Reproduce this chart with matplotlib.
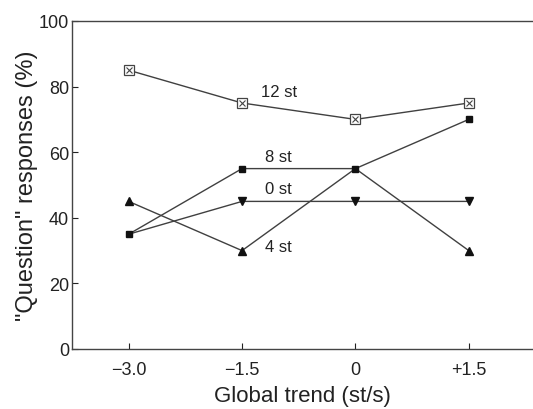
import matplotlib
matplotlib.use("Agg")
import matplotlib.pyplot as plt

plt.rcParams['font.family'] = ['Liberation Sans', 'DejaVu Sans']

# Global F0 trend conditions (st/s)
trend = [-3.0, -1.5, 0.0, 1.5]
trend_labels = ['\u22123.0', '\u22121.5', '0', '+1.5']

# Percentage of "question" responses per final-rise size
resp_12st = [85, 75, 70, 75]
resp_8st = [35, 55, 55, 70]
resp_0st = [35, 45, 45, 45]
resp_4st = [45, 30, 55, 30]

yticks = [0, 20, 40, 60, 80, 100]

fig = plt.figure(figsize=(5.33, 4.10), dpi=100)
ax = fig.add_axes([72 / 533, 1 - 350 / 410, 461 / 533, 328 / 410])

lc = '#404040'
lw = 1.0
ax.plot(trend, resp_4st, color=lc, lw=lw, marker='^', ms=5.5, mfc='#111111',
        mec='#111111', markevery=[0, 1, 3], zorder=3)
ax.plot(trend, resp_0st, color=lc, lw=lw, marker='v', ms=5.5, mfc='#111111',
        mec='#111111', markevery=[1, 2, 3], zorder=3)
ax.plot(trend, resp_8st, color=lc, lw=lw, marker='s', ms=4.5, mfc='#111111',
        mec='#111111', zorder=4)
ax.plot(trend, resp_12st, color=lc, lw=lw, marker='s', ms=7, mfc='white',
        mec='#444444', mew=0.9, zorder=3)
ax.plot(trend, resp_12st, color='none', lw=0, marker='x', ms=4,
        mec='#444444', mew=0.8, zorder=4)

ax.text(-1.25, 78.5, '12 st', fontsize=12, ha='left', va='center', color='#222222')
ax.text(-1.2, 58.8, '8 st', fontsize=12, ha='left', va='center', color='#222222')
ax.text(-1.2, 48.8, '0 st', fontsize=12, ha='left', va='center', color='#222222')
ax.text(-1.2, 31.4, '4 st', fontsize=12, ha='left', va='center', color='#222222')

ax.set_xlim(-3.75, 2.35)
ax.set_ylim(0, 100)
ax.set_xticks(trend)
ax.set_xticklabels(trend_labels)
ax.set_yticks(yticks)
ax.tick_params(direction='in', length=4, width=0.8, labelsize=13,
               colors='#222222')
ax.tick_params(axis='x', pad=9)
ax.tick_params(axis='y', pad=2)

for side in ['left', 'bottom', 'top']:
    ax.spines[side].set_color('#444444')
    ax.spines[side].set_linewidth(1.0)
ax.spines['right'].set_visible(False)

ax.set_xlabel('Global trend (st/s)', fontsize=16, color='#222222', labelpad=5)
ax.set_ylabel('"Question" responses (%)', fontsize=17, color='#222222', labelpad=1)

fig.savefig('out.png', dpi=100, facecolor='white')
